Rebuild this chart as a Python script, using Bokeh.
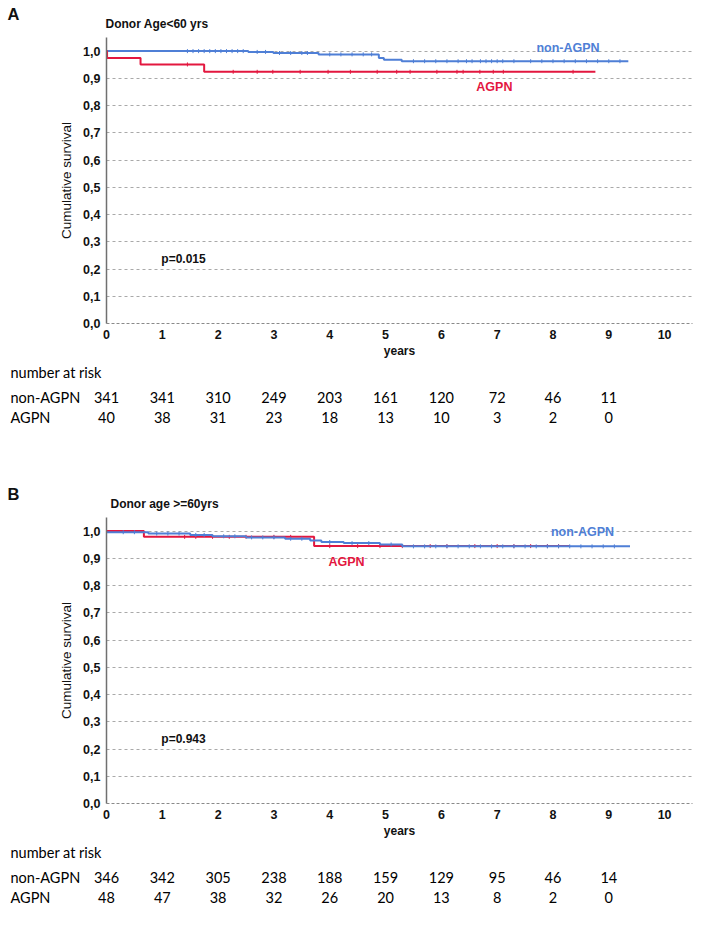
import numpy as np
from bokeh.plotting import figure
from bokeh.models import Range1d, FixedTicker, CustomJSTickFormatter
from bokeh.core.properties import value
from bokeh.embed import file_html
from bokeh.resources import INLINE

# ---------------- data ----------------
year_ticks = [0, 1, 2, 3, 4, 5, 6, 7, 8, 9, 10]
surv_ticks = [0.0, 0.1, 0.2, 0.3, 0.4, 0.5, 0.6, 0.7, 0.8, 0.9, 1.0]
risk_years = [0, 1, 2, 3, 4, 5, 6, 7, 8, 9]

# Panel A: Donor Age < 60 yrs
a_non_t = [0.0, 2.54, 2.99, 3.80, 4.88, 4.97, 5.29]
a_non_s = [1.000, 0.997, 0.993, 0.988, 0.975, 0.968, 0.963]
a_non_end = 9.35
a_non_cens = [1.45, 1.55, 1.65, 1.75, 1.85, 1.95, 2.05, 2.15, 2.25, 2.35, 2.45,
              2.7, 2.85, 3.1, 3.3, 3.5, 3.6, 4.0, 4.2, 4.4, 4.6, 4.75,
              5.5, 5.7, 5.9, 6.1, 6.3, 6.45, 6.55, 6.7, 6.8, 6.9, 7.0, 7.1,
              7.3, 7.6, 7.8, 8.0, 8.2, 8.4, 8.6, 8.8, 9.0, 9.2]
a_agpn_t = [0.0, 0.01, 0.61, 1.75]
a_agpn_s = [1.000, 0.975, 0.951, 0.924]
a_agpn_end = 8.76
a_agpn_cens = [1.45, 2.27, 2.70, 2.98, 3.47, 3.97, 4.37, 4.85, 5.20, 5.44,
               5.92, 6.28, 6.39, 6.69, 6.93, 7.11, 8.36]
a_risk_non = [341, 341, 310, 249, 203, 161, 120, 72, 46, 11]
a_risk_agpn = [40, 38, 31, 23, 18, 13, 10, 3, 2, 0]
a_title = "Donor Age<60 yrs"
a_p = "p=0.015"

# Panel B: Donor age >= 60 yrs
b_non_t = [0.0, 0.75, 1.50, 1.90, 2.50, 3.20, 3.65, 3.85, 4.25, 4.90, 5.30]
b_non_s = [0.996, 0.991, 0.986, 0.981, 0.977, 0.972, 0.966, 0.960, 0.956, 0.951, 0.944]
b_non_end = 9.38
b_non_cens = [0.3, 0.5, 0.9, 1.1, 1.3, 1.6, 1.75, 2.1, 2.3, 2.6, 2.8, 3.0, 3.3,
              3.5, 4.0, 4.4, 4.7, 5.1, 5.5, 5.7, 5.9, 6.1, 6.3, 6.5, 6.7, 6.9,
              7.1, 7.3, 7.5, 7.7, 7.9, 8.1, 8.3, 8.5, 8.7, 8.9, 9.1]
b_agpn_t = [0.0, 0.67, 3.72]
b_agpn_s = [1.000, 0.979, 0.945]
b_agpn_end = 8.30
b_agpn_cens = [1.4, 1.6, 1.9, 2.2, 2.5, 3.0, 3.3, 4.0, 4.5, 4.9, 5.3, 5.8,
               6.1, 6.6, 7.0, 7.3, 7.6, 7.9, 8.1]
b_risk_non = [346, 342, 305, 238, 188, 159, 129, 95, 46, 14]
b_risk_agpn = [48, 47, 38, 32, 26, 20, 13, 8, 2, 0]
b_title = "Donor age >=60yrs"
b_p = "p=0.943"

group_names = ["non-AGPN", "AGPN"]

# ---------------- style / layout ----------------
BLUE = "#4f7fd6"
RED = "#e3173f"
INK = "#111111"
W = 709
LEFT, RIGHT = 106, 17
XMAX = 10.5
PX_PER_YEAR = (W - LEFT - RIGHT) / XMAX
ARIAL = value("Liberation Sans")
TABLE_FONT = value("Lato")


def blank(height, x_range, y_range):
    f = figure(width=W, height=height, x_range=x_range, y_range=y_range,
               output_backend="svg", toolbar_location=None, min_border=0)
    f.axis.visible = False
    f.grid.visible = False
    f.outline_line_color = None
    return f


def header(height, letter, letter_y, title, title_x, title_y):
    f = blank(height, Range1d(0, W), Range1d(height, 0))
    f.text(x=[7], y=[letter_y], text=[letter], text_font=ARIAL,
           text_font_style="bold", text_font_size="16.5px",
           text_baseline="middle", text_align="left", text_color=INK)
    f.text(x=[title_x], y=[title_y], text=[title], text_font=ARIAL,
           text_font_style="bold", text_font_size="12px",
           text_baseline="middle", text_align="left", text_color=INK)
    return f


def step_y(t, s, c):
    idx = np.searchsorted(np.asarray(t), np.asarray(c), side="right") - 1
    return np.asarray(s)[idx]


def km_plot(curves, labels, ptext):
    p = figure(width=W, height=325, x_range=Range1d(0, XMAX), y_range=Range1d(0, 1.05),
               output_backend="svg", toolbar_location=None,
               min_border_left=LEFT, min_border_right=RIGHT,
               min_border_top=0, min_border_bottom=39)
    p.outline_line_color = None
    p.xgrid.visible = False
    p.ygrid.ticker = FixedTicker(ticks=surv_ticks)
    p.ygrid.grid_line_color = "#a9a9a9"
    p.ygrid.grid_line_dash = "3 3"
    p.ygrid.grid_line_width = 1

    p.xaxis.ticker = FixedTicker(ticks=year_ticks)
    p.yaxis.ticker = FixedTicker(ticks=surv_ticks)
    p.yaxis.formatter = CustomJSTickFormatter(code="return tick.toFixed(1).replace('.', ',');")
    for ax in (p.xaxis, p.yaxis):
        ax.major_tick_out = 0
        ax.major_tick_in = 0
        ax.minor_tick_out = 0
        ax.minor_tick_in = 0
        ax.major_label_text_font = "Liberation Sans"
        ax.major_label_text_font_style = "bold"
        ax.major_label_text_font_size = "12.5px"
        ax.major_label_text_color = INK
        ax.major_label_standoff = 6
        ax.axis_label_text_color = INK
        ax.axis_label_text_font = "Liberation Sans"
    p.yaxis.axis_line_color = "#707070"
    p.yaxis.axis_line_width = 1.5
    p.xaxis.axis_line_color = "#8a8a8a"
    p.xaxis.axis_line_dash = "3 2"
    p.yaxis.axis_label = "Cumulative survival"
    p.yaxis.axis_label_text_font_style = "normal"
    p.yaxis.axis_label_text_font_size = "13.5px"
    p.yaxis.axis_label_standoff = 6
    p.xaxis.axis_label = "years"
    p.xaxis.axis_label_text_font_style = "bold"
    p.xaxis.axis_label_text_font_size = "12px"
    p.xaxis.axis_label_standoff = 2

    for t, s, end, cens, color in curves:
        xs = list(t) + [end]
        ys = list(s) + [s[-1]]
        p.step(xs, ys, mode="after", line_color=color, line_width=2)
        p.scatter(cens, step_y(t, s, cens), marker="dash", angle=np.pi / 2,
                  size=4, line_color=color, line_width=1)

    for (lx, ly, txt, color) in labels:
        p.text(x=[lx], y=[ly], text=[txt], text_font=ARIAL, text_font_style="bold",
               text_font_size="12.5px", text_color=color,
               text_align="center", text_baseline="middle")
    p.text(x=[1.38], y=[0.237], text=[ptext], text_font=ARIAL, text_font_style="bold",
           text_font_size="12px", text_color=INK,
           text_align="center", text_baseline="middle")
    return p


def risk_table(height, non_vals, agpn_vals):
    x0 = -LEFT / PX_PER_YEAR
    x1 = (W - LEFT) / PX_PER_YEAR
    f = blank(height, Range1d(x0, x1), Range1d(height, 0))
    lab_x = x0 + 10 / PX_PER_YEAR
    common = dict(text_font=TABLE_FONT, text_font_size="14.5px", text_color="#000000",
                  text_baseline="middle")
    f.text(x=[lab_x], y=[10], text=["number at risk"], text_align="left", **common)
    f.text(x=[lab_x, lab_x], y=[35, 55], text=group_names, text_align="left", **common)
    f.text(x=risk_years, y=[35] * len(risk_years), text=[str(v) for v in non_vals],
           text_align="center", **common)
    f.text(x=risk_years, y=[55] * len(risk_years), text=[str(v) for v in agpn_vals],
           text_align="center", **common)
    return f


hA = header(37, "A", 13, a_title, 105, 23)
pA = km_plot(
    [(a_non_t, a_non_s, a_non_end, a_non_cens, BLUE),
     (a_agpn_t, a_agpn_s, a_agpn_end, a_agpn_cens, RED)],
    [(8.27, 1.011, "non-AGPN", BLUE), (6.95, 0.868, "AGPN", RED)],
    a_p)
tA = risk_table(98, a_risk_non, a_risk_agpn)

hB = header(57, "B", 33, b_title, 110, 43)
pB = km_plot(
    [(b_agpn_t, b_agpn_s, b_agpn_end, b_agpn_cens, RED),
     (b_non_t, b_non_s, b_non_end, b_non_cens, BLUE)],
    [(8.53, 0.996, "non-AGPN", BLUE), (4.3, 0.886, "AGPN", RED)],
    b_p)
tB = risk_table(83, b_risk_non, b_risk_agpn)

# separate roots, stacked by the page flow (no frame alignment between them)
open("out.html", "w").write(file_html([hA, pA, tA, hB, pB, tB], INLINE))
